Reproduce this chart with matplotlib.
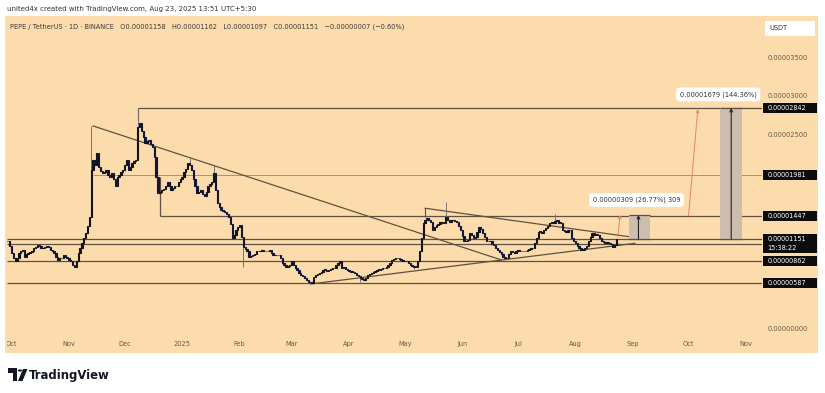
import matplotlib
matplotlib.use("Agg")
import matplotlib.pyplot as plt
import matplotlib.dates as mdates
from matplotlib.patches import Rectangle, Circle, Polygon
from matplotlib.transforms import blended_transform_factory, Bbox, TransformedBbox
from matplotlib.ticker import FuncFormatter
from datetime import datetime, timedelta

W, H = 825, 393

# daily closes, PEPE/USDT, in units of 1e-6 USDT, starting 2024-09-29
first_day = datetime(2024, 9, 29)
closes = [
    11.2, 10.6, 9.7, 9.0, 8.6, 9.1, 9.7, 9.9, 10.1, 9.2,
    9.5, 9.7, 9.8, 9.9, 10.3, 10.5, 10.7, 10.6, 10.3, 10.4,
    10.5, 10.6, 10.5, 10.1, 10.0, 9.7, 9.2, 8.8, 9.0, 9.1,
    9.4, 9.2, 9.0, 8.8, 8.6, 8.2, 7.9, 8.7, 9.7, 10.4,
    11.0, 11.6, 12.3, 13.2, 14.4, 20.4, 21.7, 21.0, 22.6, 20.8,
    20.3, 20.0, 20.2, 20.4, 19.8, 19.5, 20.0, 19.2, 18.3, 19.5,
    19.8, 20.2, 20.4, 21.0, 21.7, 20.4, 20.8, 21.3, 21.6, 21.7,
    26.0, 26.5, 25.5, 24.7, 23.9, 24.1, 24.3, 23.8, 23.4, 22.1,
    19.5, 17.4, 17.6, 17.8, 18.0, 18.3, 18.9, 18.4, 17.8, 18.1,
    18.3, 18.3, 18.8, 19.2, 19.5, 20.1, 20.6, 21.3, 21.0, 20.4,
    19.2, 18.3, 17.4, 17.6, 17.8, 17.3, 17.0, 17.6, 18.3, 18.6,
    18.9, 20.0, 17.8, 16.1, 15.6, 15.2, 15.1, 15.0, 14.7, 14.4,
    13.5, 11.6, 12.0, 12.7, 13.0, 13.3, 11.8, 10.5, 10.2, 9.9,
    9.2, 9.3, 9.4, 9.6, 9.9, 9.9, 9.9, 10.1, 10.0, 9.9,
    10.0, 10.1, 9.7, 9.4, 9.4, 9.4, 9.4, 9.0, 8.4, 8.1,
    7.9, 8.0, 8.1, 8.6, 8.2, 7.8, 7.5, 7.1, 6.85, 6.7,
    6.5, 6.2, 6.0, 5.9, 5.8, 6.6, 6.9, 7.0, 7.1, 7.3,
    7.5, 7.5, 7.4, 7.5, 7.6, 7.7, 7.75, 8.1, 8.4, 8.6,
    7.75, 7.9, 7.6, 7.5, 7.4, 7.3, 7.3, 7.1, 6.85, 6.7,
    6.5, 6.3, 6.2, 6.5, 6.85, 7.0, 7.1, 7.3, 7.4, 7.5,
    7.5, 7.6, 7.7, 7.75, 7.9, 8.1, 8.4, 8.8, 8.9, 9.0,
    9.0, 8.9, 8.8, 8.7, 8.6, 8.6, 8.4, 8.1, 8.0, 7.9,
    7.9, 8.6, 10.0, 11.6, 13.6, 13.9, 14.2, 13.9, 13.7, 12.7,
    13.0, 13.3, 13.5, 13.7, 13.6, 13.6, 14.4, 14.0, 13.7, 13.9,
    14.0, 13.8, 13.7, 13.2, 12.7, 11.9, 11.2, 11.3, 11.4, 12.3,
    12.0, 11.6, 11.8, 12.4, 13.1, 12.8, 12.3, 11.8, 11.2, 11.2,
    11.2, 10.9, 10.7, 10.4, 10.1, 9.8, 9.5, 9.2, 9.1, 9.0,
    9.5, 9.9, 9.8, 9.7, 9.9, 10.1, 10.0, 9.9, 9.9, 10.0,
    10.1, 10.2, 10.3, 10.3, 11.0, 11.6, 12.4, 12.4, 12.3, 12.6,
    12.9, 13.2, 13.6, 13.6, 13.6, 13.8, 14.0, 13.6, 13.6, 12.7,
    12.5, 12.4, 12.6, 12.7, 11.6, 11.2, 11.0, 10.6, 10.3, 10.1,
    10.1, 10.3, 10.6, 11.2, 11.8, 12.3, 12.0, 12.0, 12.0, 11.6,
    11.2, 11.1, 11.0, 11.0, 11.0, 10.8, 10.5, 10.7, 11.51,
]

# notable wick extremes
wick_highs = {"2024-11-13": 26.1, "2024-12-08": 28.4, "2025-01-05": 21.9,
              "2025-01-18": 21.05, "2025-05-23": 16.3, "2025-07-21": 14.7}
wick_lows = {"2025-02-03": 7.9, "2025-03-11": 5.7, "2025-04-07": 5.95, "2025-05-06": 7.6}

# horizontal levels (price, start date or None = full width)
levels = [28.42, 19.81, 14.47, 11.51, 10.86, 8.62, 5.87]
level_starts = ["2024-12-08", "2024-11-14", "2024-12-20", None, None, None, None]

# trend lines
trend_lines = [
    (("2024-11-14", 26.1), ("2025-06-22", 8.8)),
    (("2025-03-11", 5.68), ("2025-09-02", 10.94)),
    (("2025-05-12", 15.47), ("2025-09-09", 11.46)),
]

# right-scale price tags
tag_prices = [28.42, 19.81, 14.47, 11.51, 8.62, 5.87]
tag_texts = ["0.00002842", "0.00001981", "0.00001447", "0.00001151\n15:38:22",
             "0.00000862", "0.00000587"]

month_ticks = ["2024-10-01", "2024-11-01", "2024-12-01", "2025-01-01", "2025-02-01",
               "2025-03-01", "2025-04-01", "2025-05-01", "2025-06-01", "2025-07-01",
               "2025-08-01", "2025-09-01", "2025-10-01", "2025-11-01"]
month_labels = ["Oct", "Nov", "Dec", "2025", "Feb", "Mar", "Apr", "May", "Jun", "Jul",
                "Aug", "Sep", "Oct", "Nov"]
# scale labels not hidden behind the price tags
price_ticks = [0, 25, 30, 35]

# projection drawings
small_move = {"arrow": (("2025-08-24", 11.8), ("2025-08-25", 14.6)),
              "box": ("2025-08-30", "2025-09-10", 11.51, 14.6), "mid": "2025-09-04",
              "label": ("2025-09-03", 16.54, "0.00000309 (26.77%) 309")}
big_move = {"arrow": (("2025-10-01", 14.47), ("2025-10-06", 28.26)),
            "box": ("2025-10-18", "2025-10-30", 11.51, 28.42), "mid": "2025-10-24",
            "label": ("2025-10-17", 30.17, "0.00001679 (144.36%)")}

BG = "#fcdcac"
LINE = "#5e5141"
RED = "#e8806c"
TXT = "#6a5847"


def dn(s):
    return mdates.date2num(datetime.strptime(s, "%Y-%m-%d"))


def fx(px):
    return px / W


def fy(py):
    return 1 - py / H


fig = plt.figure(figsize=(W / 100, H / 100), dpi=100)
fig.patch.set_facecolor("white")
fig.patches.append(Rectangle((fx(5), fy(353)), (818 - 5) / W, (353 - 15.7) / H,
                             transform=fig.transFigure, fc=BG, ec="none", zorder=-2))

ax = fig.add_axes([fx(7), fy(336), (762 - 7) / W, (336 - 16) / H])
ax.set_facecolor(BG)
for s in ax.spines.values():
    s.set_visible(False)

x0 = mdates.date2num(first_day - timedelta(days=0.4))
x1 = mdates.date2num(first_day + timedelta(days=406.6))
ax.set_xlim(x0, x1)
ax.set_ylim(-1.03, 40.3)

# candles
days = [mdates.date2num(first_day + timedelta(days=i)) for i in range(len(closes))]
opens = [closes[0]] + closes[:-1]
bottoms = [min(o, c) for o, c in zip(opens, closes)]
heights = [max(abs(c - o), 0.08) for o, c in zip(opens, closes)]
colors = ["#141414" if c >= o else "#10163a" for o, c in zip(opens, closes)]
ax.bar(days, heights, bottom=bottoms, width=0.7, color=colors, edgecolor=colors,
       linewidth=0.8, zorder=4)
for d, v in wick_highs.items():
    i = int(round(dn(d) - days[0]))
    ax.vlines(dn(d), max(opens[i], closes[i]), v, color="#7a7470", lw=0.7, zorder=3)
for d, v in wick_lows.items():
    i = int(round(dn(d) - days[0]))
    ax.vlines(dn(d), v, min(opens[i], closes[i]), color="#7a7470", lw=0.7, zorder=3)

# levels
for p, start in zip(levels, level_starts):
    xs = dn(start) if start else x0
    thin = p == 19.81
    ax.hlines(p, xs, x1, color="#8f7f6b" if thin else LINE, lw=0.55 if thin else 0.9, zorder=2)
ax.vlines(dn("2024-12-20"), 14.47, 19.5, color=LINE, lw=0.9, zorder=2)
ax.vlines(dn("2024-12-08"), 26.9, 28.42, color=LINE, lw=0.9, zorder=2)
ax.vlines(dn("2025-05-12"), 14.3, 15.47, color=LINE, lw=0.8, zorder=2)

for (da, pa), (db, pb) in trend_lines:
    ax.plot([dn(da), dn(db)], [pa, pb], color=LINE, lw=0.9, zorder=2)

# projections
for mv in (small_move, big_move):
    (da, pa), (db, pb) = mv["arrow"]
    ax.annotate("", xy=(dn(db), pb), xytext=(dn(da), pa),
                arrowprops=dict(arrowstyle="->", color=RED, lw=0.7, mutation_scale=5,
                                shrinkA=0, shrinkB=0), zorder=5)
    bl, br, plo, phi = mv["box"]
    ax.add_patch(Rectangle((dn(bl), plo), dn(br) - dn(bl), phi - plo,
                           fc="#cdbdae", ec="none", zorder=3))
    ax.hlines([plo, phi], dn(bl), dn(br), color=LINE, lw=0.9, zorder=4)
    ax.annotate("", xy=(dn(mv["mid"]), phi), xytext=(dn(mv["mid"]), plo),
                arrowprops=dict(arrowstyle="->", color="#222222", lw=0.8, mutation_scale=5,
                                shrinkA=0, shrinkB=0), zorder=5)
    ld, lp, lt = mv["label"]
    ax.text(dn(ld), lp, lt, ha="center", va="center", fontsize=4.8, color="#333333",
            bbox=dict(boxstyle="round,pad=0.55", fc="white", ec="none"), zorder=8)

# axes ticks
ax.set_xticks([dn(m) for m in month_ticks])
ax.set_xticklabels(month_labels)
ax.tick_params(axis="x", length=0, pad=3.6, labelsize=4.8, labelcolor=TXT)
clip = TransformedBbox(Bbox([[fx(7), 0], [1, 1]]), fig.transFigure)
for lab in ax.get_xticklabels():
    lab.set_clip_box(clip)
    lab.set_clip_on(True)

ax.yaxis.tick_right()
ax.set_yticks(price_ticks)
ax.yaxis.set_major_formatter(FuncFormatter(lambda v, pos: f"{v * 1e-6:.8f}"))
ax.tick_params(axis="y", length=0, pad=4.3, labelsize=4.8, labelcolor=TXT)

# price tags on the right scale
tr = blended_transform_factory(ax.transAxes, ax.transData)
ppu = (336 - 16) / 41.33  # pixels per price unit
for p, t in zip(tag_prices, tag_texts):
    two = "\n" in t
    hgt = (19 if two else 10) / ppu
    top = p + 5 / ppu
    ax.add_patch(Rectangle((1.001, top - hgt), 54 / 755, hgt, transform=tr,
                           fc="#0c0c0c", ec="none", clip_on=False, zorder=9))
    ax.text(1.007, top - 0.5 * hgt, t, transform=tr, ha="left", va="center",
            fontsize=4.7, color="white", linespacing=1.5, clip_on=False, zorder=10)

# USDT box
fig.patches.append(Rectangle((fx(765), fy(36)), 50 / W, 15 / H, transform=fig.transFigure,
                             fc="white", ec="none", zorder=1))
fig.text(fx(769), fy(28.5), "USDT", fontsize=4.8, color="#333333", va="center")

# header texts
fig.text(fx(7), fy(9), "united4x created with TradingView.com, Aug 23, 2025 13:51 UTC+5:30",
         fontsize=5.0, color="#333333", va="center")
fig.text(fx(10), fy(26.7),
         "PEPE / TetherUS · 1D · BINANCE   O0.00001158   H0.00001162   L0.00001097   "
         "C0.00001151   \u22120.00000007 (\u22120.60%)",
         fontsize=4.8, color="#3a3a3a", va="center")

# TradingView logo
logo_color = "#131722"
fig.patches.append(Rectangle((fx(8), fy(372.5)), 9 / W, 4.5 / H, transform=fig.transFigure,
                             fc=logo_color, ec="none"))
fig.patches.append(Rectangle((fx(12.5), fy(381)), 4.5 / W, 12 / H, transform=fig.transFigure,
                             fc=logo_color, ec="none"))
fig.patches.append(Circle((fx(20), fy(370.5)), 2.2 / W, transform=fig.transFigure,
                          fc=logo_color, ec="none"))
fig.patches.append(Polygon([(fx(18), fy(381)), (fx(22.5), fy(381)), (fx(27.5), fy(369)),
                            (fx(23), fy(369))], closed=True, transform=fig.transFigure,
                           fc=logo_color, ec="none"))
fig.text(fx(29), fy(375), "TradingView", fontsize=8.4, fontweight="bold",
         color=logo_color, va="center")

fig.savefig("out.png", dpi=100, facecolor="white")
